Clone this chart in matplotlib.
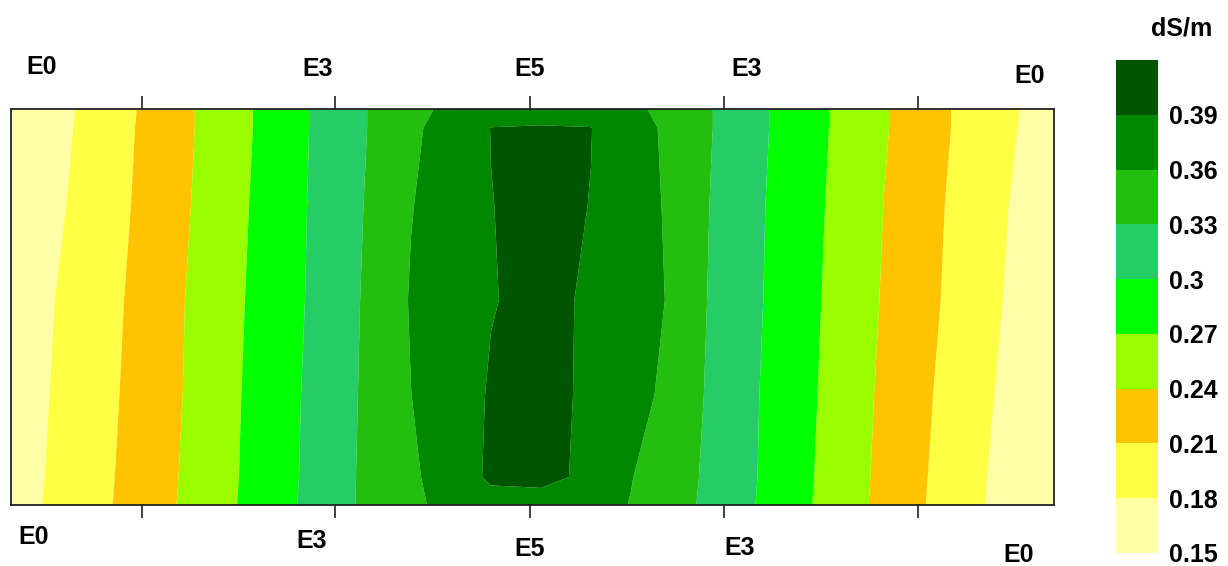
import numpy as np
import matplotlib
matplotlib.use("Agg")
import matplotlib.pyplot as plt
from matplotlib.colors import ListedColormap, BoundaryNorm

# ---- data ----
levels = [0.15, 0.18, 0.21, 0.24, 0.27, 0.30, 0.33, 0.36, 0.39, 0.42]
level_colors = ["#FFFFA8", "#FFFF44", "#FFC400", "#99FF00", "#00FF00",
                "#26CC66", "#22BF10", "#008800", "#005500"]
site_labels_top = ["E0", "E3", "E5", "E3", "E0"]
site_labels_bottom = ["E0", "E3", "E5", "E3", "E0"]
tick_positions = [131, 324, 519, 713, 907]
unit_label = "dS/m"

x_positions = [0, 60, 120, 180, 240, 300, 360, 400, 440, 480, 530, 580, 620,
               660, 700, 760, 820, 880, 940, 1000, 1043]
y_positions = [0, 28, 110, 205, 300, 377, 396]

ec_row_0 = [0.167, 0.192, 0.218, 0.247, 0.277, 0.307, 0.338, 0.356, 0.366, 0.376, 0.379,
            0.371, 0.359, 0.342, 0.323, 0.292, 0.260, 0.228, 0.197, 0.167, 0.155]
ec_row_28 = [0.166, 0.191, 0.217, 0.246, 0.276, 0.306, 0.338, 0.357, 0.369, 0.396, 0.397,
             0.3845, 0.361, 0.344, 0.324, 0.293, 0.261, 0.229, 0.198, 0.168, 0.156]
ec_row_110 = [0.164, 0.189, 0.215, 0.244, 0.275, 0.305, 0.337, 0.3598, 0.373, 0.393, 0.398,
              0.3855, 0.370, 0.353, 0.325, 0.294, 0.263, 0.231, 0.201, 0.172, 0.158]
ec_row_205 = [0.161, 0.187, 0.213, 0.243, 0.273, 0.303, 0.336, 0.362, 0.375, 0.3885, 0.398,
              0.386, 0.371, 0.358, 0.327, 0.296, 0.265, 0.234, 0.205, 0.176, 0.160]
ec_row_300 = [0.157, 0.182, 0.210, 0.240, 0.271, 0.302, 0.334, 0.359, 0.372, 0.3895, 0.397,
              0.3895, 0.376, 0.355, 0.329, 0.297, 0.267, 0.236, 0.207, 0.179, 0.161]
ec_row_377 = [0.153, 0.179, 0.208, 0.238, 0.269, 0.301, 0.332, 0.356, 0.369, 0.3905, 0.391,
              0.3905, 0.372, 0.354, 0.331, 0.299, 0.269, 0.239, 0.210, 0.183, 0.165]
ec_row_396 = [0.152, 0.178, 0.207, 0.238, 0.269, 0.301, 0.332, 0.352, 0.366, 0.378, 0.384,
              0.380, 0.367, 0.350, 0.331, 0.299, 0.269, 0.239, 0.210, 0.184, 0.164]

Z = np.array([ec_row_0, ec_row_28, ec_row_110, ec_row_205, ec_row_300, ec_row_377, ec_row_396])
X, Y = np.meshgrid(x_positions, y_positions)

# ---- figure ----
W, H = 1228, 566
fig = plt.figure(figsize=(W / 100, H / 100), dpi=100)
fig.patch.set_facecolor("white")

def fx(px):
    return px / W

def fy(py):
    return 1 - py / H

ax = fig.add_axes([fx(11), fy(505), fx(1054) - fx(11), fy(109) - fy(505)])
cmap = ListedColormap(level_colors)
norm = BoundaryNorm(levels, cmap.N)
cs = ax.contourf(X, Y, Z, levels=levels, cmap=cmap, norm=norm, antialiased=True)
ax.set_xlim(x_positions[0], x_positions[-1])
ax.set_ylim(y_positions[0], y_positions[-1])

ax.set_xticks(tick_positions)
ax.set_yticks([])
ax.tick_params(axis="x", which="both", top=True, bottom=True, direction="out",
               length=9.5, width=1.3, color="#333333",
               labelbottom=False, labeltop=False)
for sp in ax.spines.values():
    sp.set_linewidth(1.3)
    sp.set_color("#222222")

FS = 18
font = dict(family=["Liberation Sans", "DejaVu Sans"], fontweight="bold",
            fontsize=FS, color="black", ha="center", va="center")

top_label_px = [(42, 67), (318, 69), (530, 69), (747, 69), (1030, 76)]
bottom_label_px = [(34, 537), (312, 541), (530, 549), (740, 548), (1019, 555)]
for lab, (px, py) in zip(site_labels_top, top_label_px):
    fig.text(fx(px), fy(py), lab, **font)
for lab, (px, py) in zip(site_labels_bottom, bottom_label_px):
    fig.text(fx(px), fy(py), lab, **font)

# colorbar
cax = fig.add_axes([fx(1116), fy(553), fx(1158) - fx(1116), fy(60) - fy(553)])
cb = fig.colorbar(cs, cax=cax, ticks=levels[:-1])
cb.outline.set_visible(False)
for sp in cax.spines.values():
    sp.set_visible(False)
cb.ax.minorticks_off()
cb.ax.set_yticks(levels[:-1])
cb.ax.set_yticklabels(["%g" % v for v in levels[:-1]])
cb.ax.tick_params(length=0, pad=8)
for t in cb.ax.get_yticklabels():
    t.set_fontfamily(["Liberation Sans", "DejaVu Sans"])
    t.set_fontweight("bold")
    t.set_fontsize(FS)
fig.text(fx(1182), fy(28), unit_label, **font)

fig.savefig("out.png", dpi=100)
